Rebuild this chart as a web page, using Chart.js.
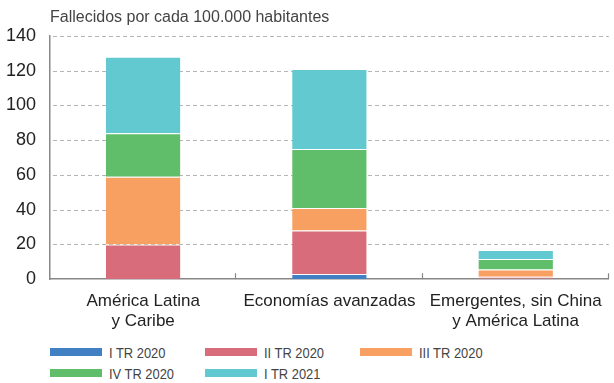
<!DOCTYPE html>
<html>
<head>
<meta charset="utf-8">
<script src="https://cdn.jsdelivr.net/npm/chart.js@4.4.1/dist/chart.umd.min.js"></script>
<style>
    html, body { margin: 0; padding: 0; background: #fff; }
    #wrap { position: relative; width: 614px; height: 344px; }
    #legend {
        display: grid;
        grid-template-columns: 155px 155px 155px;
        row-gap: 5px;
        margin-left: 50px;
        margin-top: 0;
        font-family: "Liberation Sans", Arial, sans-serif;
        font-size: 15px;
        color: #444;
    }
    #legend .item { display: flex; align-items: center; height: 16px; }
    #legend .box { width: 52px; height: 8px; margin-right: 7px; flex: none; }
    #legend .txt { display: inline-block; transform: scaleX(0.86); transform-origin: left center; white-space: nowrap; }
</style>
</head>
<body>
<div id="wrap"><canvas id="chart"></canvas></div>
<div id="legend"></div>
<script>
const categories = [
    ["América Latina", "y Caribe"],
    "Economías avanzadas",
    ["Emergentes, sin China", "y América Latina"],
];
const seriesNames = ["I TR 2020", "II TR 2020", "III TR 2020", "IV TR 2020", "I TR 2021"];
const q1_2020 = [0, 3, 0.2];
const q2_2020 = [20, 25, 1.2];
const q3_2020 = [39, 13, 4.2];
const q4_2020 = [25, 34, 6];
const q1_2021 = [44, 46, 5.2];
const yTicks = [0, 20, 40, 60, 80, 100, 120, 140];

const colors = ["#4280c4", "#d86c7a", "#f8a062", "#60be6a", "#63c9d1"];
const FONT = '"Liberation Sans", Arial, sans-serif';

// dashed horizontal grid, drawn under the bars
const dashedGridPlugin = {
    id: "dashedGrid",
    beforeDatasetsDraw(chart) {
        const y = chart.scales.y;
        const { left, right } = chart.chartArea;
        const ctx = chart.ctx;
        ctx.save();
        ctx.strokeStyle = "#b4b4b4";
        ctx.lineWidth = 1.2;
        ctx.setLineDash([4, 3]);
        y.ticks.forEach((t) => {
            if (t.value === 0) return;
            const py = Math.round(y.getPixelForValue(t.value)) + 0.5;
            ctx.beginPath();
            ctx.moveTo(left + 3, py);
            ctx.lineTo(right, py);
            ctx.stroke();
        });
        ctx.restore();
    },
};

// small upward ticks on the category axis, at the category boundaries
const xTicksPlugin = {
    id: "xTicks",
    afterDraw(chart) {
        const x = chart.scales.x;
        const ctx = chart.ctx;
        const n = chart.data.labels.length;
        const step = (x.right - x.left) / n;
        ctx.save();
        ctx.strokeStyle = "#888";
        ctx.lineWidth = 1.2;
        for (let i = 1; i <= n; i++) {
            const px = Math.round(x.left + i * step) - 0.5;
            ctx.beginPath();
            ctx.moveTo(px, x.top - 6);
            ctx.lineTo(px, x.top);
            ctx.stroke();
        }
        ctx.restore();
    },
};

const unitsPlugin = {
    id: "units",
    afterDraw(chart) {
        const ctx = chart.ctx;
        ctx.save();
        ctx.font = "16px " + FONT;
        ctx.fillStyle = "#444";
        ctx.textBaseline = "middle";
        ctx.fillText("Fallecidos por cada 100.000 habitantes", chart.chartArea.left, 18);
        ctx.restore();
    },
};

const seriesData = [q1_2020, q2_2020, q3_2020, q4_2020, q1_2021];

const chart = new Chart(document.getElementById("chart"), {
    type: "bar",
    data: {
        labels: categories,
        datasets: seriesNames.map((name, i) => ({
            label: name,
            data: seriesData[i],
            backgroundColor: colors[i],
            borderColor: "rgba(255,255,255,0.6)",
            borderWidth: { top: 1 },
            borderSkipped: false,
            barPercentage: 0.4,
            categoryPercentage: 1,
        })),
    },
    options: {
        responsive: true,
        maintainAspectRatio: false,
        animation: false,
        layout: { padding: { top: 36, right: 2, left: 0, bottom: 0 } },
        scales: {
            x: {
                stacked: true,
                grid: { display: false, drawTicks: false },
                border: { display: true, color: "#888", width: 1.5 },
                ticks: {
                    font: { family: FONT, size: 17 },
                    color: "#222",
                    padding: 12,
                    maxRotation: 0,
                },
            },
            y: {
                stacked: true,
                min: 0,
                max: 140,
                afterBuildTicks(scale) {
                    scale.ticks = yTicks.map((v) => ({ value: v }));
                },
                afterFit(scale) {
                    scale.width = 50;
                },
                grid: { display: false, drawTicks: false },
                border: { display: true, color: "#888", width: 1.5 },
                ticks: {
                    font: { family: FONT, size: 18 },
                    color: "#222",
                    padding: 14,
                },
            },
        },
        plugins: {
            legend: { display: false },
            tooltip: { enabled: false },
        },
    },
    plugins: [dashedGridPlugin, xTicksPlugin, unitsPlugin],
});

// legend below the chart, built from the datasets
const legendEl = document.getElementById("legend");
chart.data.datasets.forEach((ds) => {
    const item = document.createElement("div");
    item.className = "item";
    const box = document.createElement("span");
    box.className = "box";
    box.style.background = ds.backgroundColor;
    const txt = document.createElement("span");
    txt.className = "txt";
    txt.textContent = ds.label;
    item.appendChild(box);
    item.appendChild(txt);
    legendEl.appendChild(item);
});
</script>
</body>
</html>
